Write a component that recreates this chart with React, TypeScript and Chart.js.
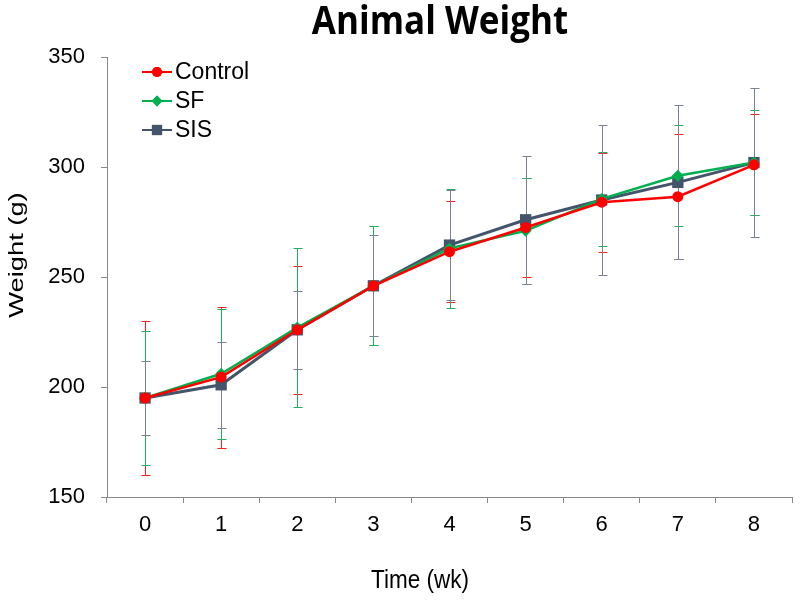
import React, { useEffect, useRef } from 'react';
import { Chart, registerables } from 'chart.js';
import { drawPoint } from 'chart.js/helpers';

Chart.register(...registerables);

// ---- data ----
const weeks = ['0', '1', '2', '3', '4', '5', '6', '7', '8'];
const seriesNames = ['Control', 'SF', 'SIS'];
const controlMean = [195, 204.5, 226, 246, 261.5, 272.5, 284, 286.5, 301];
const controlSD = [35, 32, 29, 27, 23, 22.5, 22.5, 28.5, 23];
const sfMean = [195, 206, 227, 246, 263, 271, 285.5, 296, 302];
const sfSD = [30.5, 29.5, 36.3, 27, 27, 24, 21.5, 23, 24];
const sisMean = [195, 201, 226, 246, 264.5, 276, 285, 293, 302];
const sisSD = [17, 19.5, 17.7, 23, 25, 29, 34, 35, 34];
const yMin = 150;
const yMax = 350;
const yStep = 50;

const TITLE = 'Animal Weight';
const X_TITLE = 'Time (wk)';
const Y_TITLE = 'Weight (g)';

// ---- styles ----
const colors = ['#FF0000', '#00B050', '#44546A'];
const errColors = ['#FF2020', '#20B060', '#7A8190'];
const pointStyles = ['circle', 'rectRot', 'rect'];
const pointRadii = [5.5, 6, 8];
const lineWidths = [2.5, 2.5, 3];
const errors = [controlSD, sfSD, sisSD];
const FONT = '"Liberation Sans", Arial, sans-serif';

const errorBarPlugin = {
  id: 'errorBars',
  beforeDatasetsDraw(chart: any) {
    const ctx = chart.ctx;
    const ys = chart.scales.y;
    chart.data.datasets.forEach((ds: any, i: number) => {
      const meta = chart.getDatasetMeta(i);
      const errs = errors[i];
      ctx.save();
      ctx.strokeStyle = errColors[i];
      ctx.lineWidth = 1;
      meta.data.forEach((pt: any, j: number) => {
        const v = ds.data[j];
        const e = errs[j];
        const x = Math.round(pt.x) + 0.5;
        const yt = Math.round(ys.getPixelForValue(v + e)) + 0.5;
        const yb = Math.round(ys.getPixelForValue(v - e)) + 0.5;
        ctx.beginPath();
        ctx.moveTo(x, yt);
        ctx.lineTo(x, yb);
        ctx.moveTo(x - 4, yt);
        ctx.lineTo(x + 5, yt);
        ctx.moveTo(x - 4, yb);
        ctx.lineTo(x + 5, yb);
        ctx.stroke();
      });
      ctx.restore();
    });
  },
};

const textPlugin = {
  id: 'texts',
  afterDraw(chart: any) {
    const ctx = chart.ctx;
    ctx.save();
    ctx.fillStyle = '#000';
    ctx.textAlign = 'center';
    ctx.textBaseline = 'alphabetic';
    // main title
    ctx.save();
    ctx.scale(1, 1.1);
    ctx.font = 'bold 35px "Open Sans", sans-serif';
    ctx.fillText(TITLE, 440, 34.3 / 1.1);
    ctx.restore();
    // x title
    ctx.save();
    ctx.translate(420, 588);
    ctx.scale(1, 1.14);
    ctx.font = '22.5px ' + FONT;
    ctx.fillText(X_TITLE, 0, 0);
    ctx.restore();
    // y title
    ctx.save();
    ctx.translate(23, 255);
    ctx.rotate(-Math.PI / 2);
    ctx.scale(1.3, 1);
    ctx.font = '21px ' + FONT;
    ctx.fillText(Y_TITLE, 0, 0);
    ctx.restore();

    // legend
    chart.data.datasets.forEach((ds: any, i: number) => {
      const cy = 72 + i * 29;
      const x1 = 142;
      const x2 = 172;
      ctx.strokeStyle = colors[i];
      ctx.lineWidth = 2;
      ctx.beginPath();
      ctx.moveTo(x1, cy);
      ctx.lineTo(x2, cy);
      ctx.stroke();
      ctx.fillStyle = colors[i];
      drawPoint(ctx, { pointStyle: pointStyles[i], radius: pointRadii[i] * 0.9, rotation: 0, borderWidth: 0 } as any, (x1 + x2) / 2, cy);
      ctx.fill();
      ctx.fillStyle = '#000';
      ctx.textAlign = 'left';
      ctx.textBaseline = 'middle';
      ctx.font = '23px ' + FONT;
      ctx.fillText(ds.label, 175, cy + 1);
    });
    ctx.restore();
  },
};

export default function App() {
  const ref = useRef<HTMLCanvasElement | null>(null);
  useEffect(() => {
    if (!ref.current) return;
    const means = [controlMean, sfMean, sisMean];
    const chart = new Chart(ref.current, {
      type: 'line',
      data: {
        labels: weeks,
        datasets: seriesNames.map((name, i) => ({
          label: name,
          data: means[i],
          borderColor: colors[i],
          backgroundColor: colors[i],
          pointBackgroundColor: colors[i],
          pointBorderColor: colors[i],
          pointBorderWidth: 0,
          pointStyle: pointStyles[i] as any,
          pointRadius: pointRadii[i],
          borderWidth: lineWidths[i],
          tension: 0,
          fill: false,
        })),
      },
      options: {
        animation: false,
        responsive: false,
        devicePixelRatio: 1,
        layout: { padding: { top: 57, right: 8, left: 0, bottom: 0 } },
        plugins: {
          legend: { display: false },
          title: { display: false },
          tooltip: { enabled: false },
        },
        scales: {
          x: {
            type: 'category',
            offset: true,
            grid: {
              display: true,
              drawOnChartArea: false,
              drawTicks: true,
              tickLength: 6,
              color: '#898989',
              offset: true,
            },
            border: { display: true, color: '#898989', width: 1 },
            ticks: {
              color: '#000',
              font: { family: FONT, size: 22 },
              padding: 9,
              maxRotation: 0,
            },
            afterFit: (s: any) => {
              s.height = 103;
            },
          },
          y: {
            min: yMin,
            max: yMax,
            grid: {
              display: true,
              drawOnChartArea: false,
              drawTicks: true,
              tickLength: 6,
              color: '#898989',
            },
            border: { display: true, color: '#898989', width: 1 },
            ticks: {
              stepSize: yStep,
              color: '#000',
              font: { family: FONT, size: 22 },
              padding: 16,
            },
            afterFit: (s: any) => {
              s.width = 107;
            },
          },
        },
      },
      plugins: [errorBarPlugin, textPlugin],
    });
    return () => chart.destroy();
  }, []);
  return (
    <div style={{ position: 'absolute', left: 0, top: 0, width: 800, height: 600, background: '#fff' }}>
      <canvas ref={ref} width={800} height={600} style={{ width: 800, height: 600, display: 'block' }} />
    </div>
  );
}
